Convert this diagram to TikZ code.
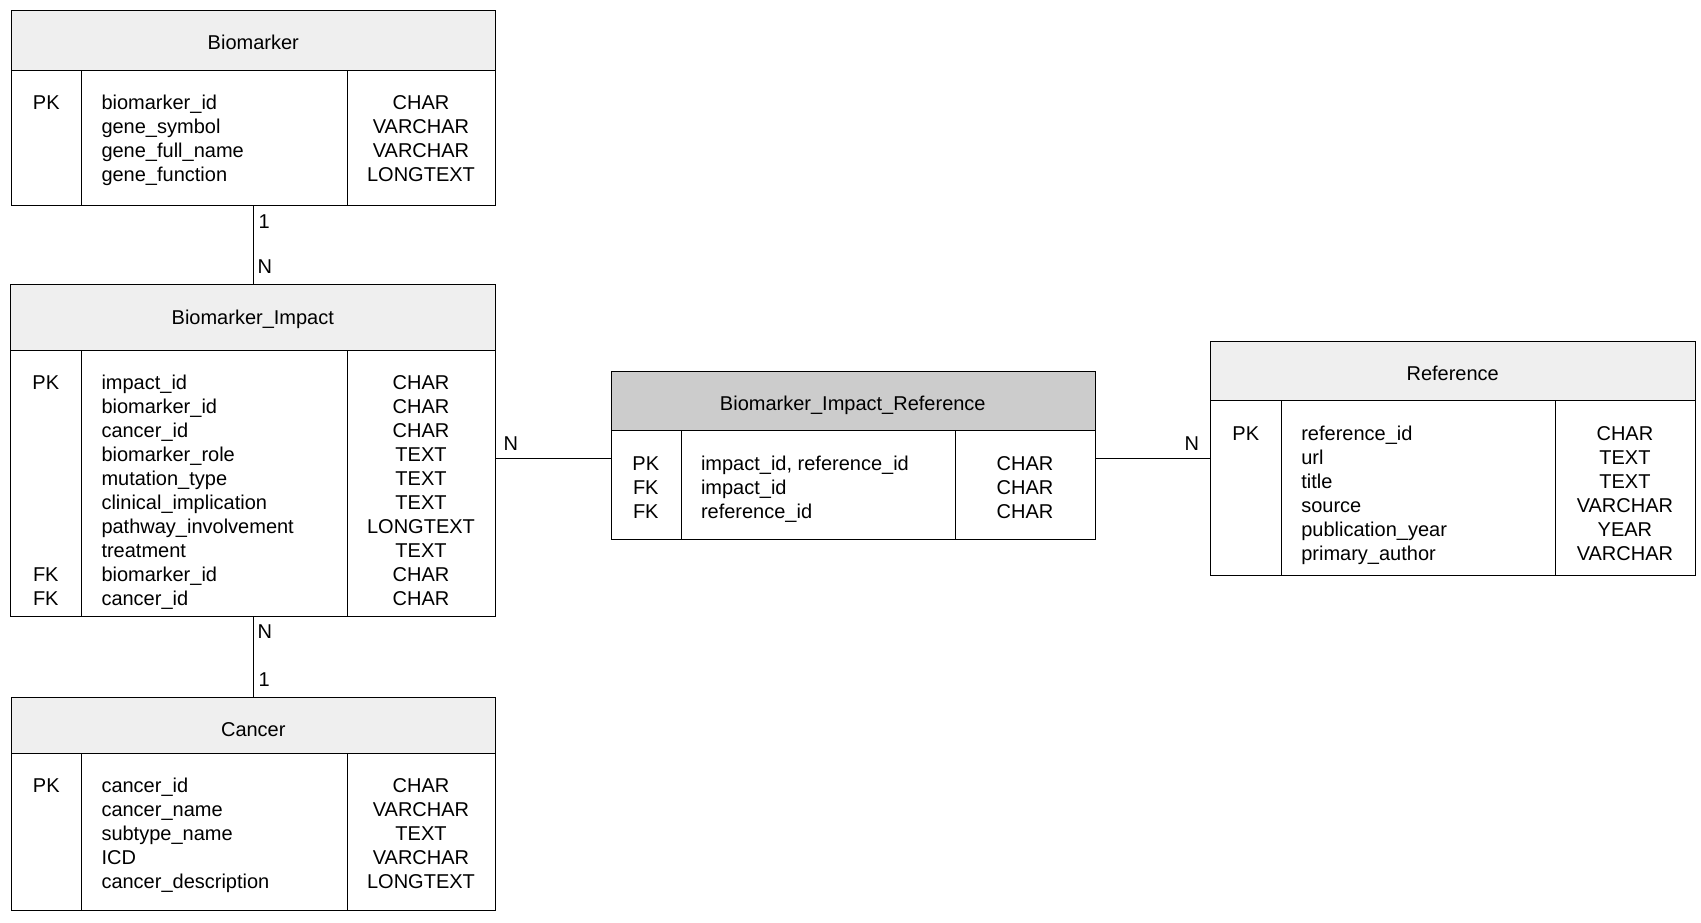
\documentclass[tikz,border=0pt]{standalone}
\usepackage{fontspec}
\setmainfont{Liberation Sans}
\usetikzlibrary{fit}

\definecolor{hdrgray}{HTML}{EFEFEF}
\definecolor{hdrdark}{HTML}{CCCCCC}

\tikzset{
  txt/.style={inner sep=0pt, outer sep=0pt, font=\fontsize{20}{24}\selectfont, text=black},
  framebox/.style={draw=black, line width=1.1pt, inner sep=0pt, anchor=north west},
  tablebox/.style={inner sep=0pt, outer sep=0pt},
  conn/.style={draw=black, line width=1.1pt},
}

% #1 name, #2 left, #3 top, #4 right, #5 header bottom, #6 bottom,
% #7 first divider, #8 second divider, #9 header fill
\newcommand\ertable[9]{%
  \node[framebox, fill=#9, minimum width={#4-#2}, minimum height={#5-#3}] (#1-head) at (#2,#3) {};
  \node[framebox, minimum width={#7-#2}, minimum height={#6-#5}] (#1-keys) at (#2,#5) {};
  \node[framebox, minimum width={#8-#7}, minimum height={#6-#5}] (#1-fields) at (#7,#5) {};
  \node[framebox, minimum width={#4-#8}, minimum height={#6-#5}] (#1-types) at (#8,#5) {};
  \node[tablebox, fit=(#1-head)(#1-keys)(#1-types)] (#1) {};
}

% #1 name, #2 key column x, #3 field text x, #4 type column x,
% #5 first baseline, #6 rows key/field/type
\newcommand\errows[6]{%
  \foreach \k/\f/\t [count=\i from 0] in {#6}{%
    \node[txt, anchor=base] (#1-k\i) at (#2,{#5+24*\i}) {\k};
    \node[txt, anchor=base west] (#1-f\i) at (#3,{#5+24*\i}) {\f};
    \node[txt, anchor=base] (#1-t\i) at (#4,{#5+24*\i}) {\t};
  }%
}

\begin{document}
\begin{tikzpicture}[x=1pt, y=-1pt]
\useasboundingbox (0,0) rectangle (1701,923);

% Biomarker
\ertable{bm}{11.3}{10.3}{495.3}{70}{205}{81.3}{346.7}{hdrgray}
\node[txt, anchor=base] (bm-title) at (253.3,50) {Biomarker};
\errows{bm}{46.3}{101.5}{421}{109.5}{%
  PK/biomarker\_id/CHAR,
  /gene\_symbol/VARCHAR,
  /gene\_full\_name/VARCHAR,
  /gene\_function/LONGTEXT}

% Biomarker_Impact
\ertable{bi}{10.3}{284.3}{495.3}{350.3}{616}{81.3}{346.7}{hdrgray}
\node[txt, anchor=base] (bi-title) at (252.8,324) {Biomarker\_Impact};
\errows{bi}{45.8}{101.5}{421}{389.5}{%
  PK/impact\_id/CHAR,
  /biomarker\_id/CHAR,
  /cancer\_id/CHAR,
  /biomarker\_role/TEXT,
  /mutation\_type/TEXT,
  /clinical\_implication/TEXT,
  /pathway\_involvement/LONGTEXT,
  /treatment/TEXT,
  FK/biomarker\_id/CHAR,
  FK/cancer\_id/CHAR}

% Cancer
\ertable{cn}{11.3}{696.7}{495.3}{753}{910}{81.3}{346.7}{hdrgray}
\node[txt, anchor=base] (cn-title) at (253.3,736) {Cancer};
\errows{cn}{46.3}{101.5}{421}{792}{%
  PK/cancer\_id/CHAR,
  /cancer\_name/VARCHAR,
  /subtype\_name/TEXT,
  /ICD/VARCHAR,
  /cancer\_description/LONGTEXT}

% Biomarker_Impact_Reference
\ertable{bir}{610.5}{371}{1095}{429.5}{539}{681}{955}{hdrdark}
\node[txt, anchor=base] (bir-title) at (852.8,410) {Biomarker\_Impact\_Reference};
\errows{bir}{645.8}{701}{1025}{470}{%
  PK/{impact\_id, reference\_id}/CHAR,
  FK/impact\_id/CHAR,
  FK/reference\_id/CHAR}

% Reference
\ertable{ref}{1210.3}{341.3}{1695}{400.3}{575}{1281.3}{1554.7}{hdrgray}
\node[txt, anchor=base] (ref-title) at (1452.7,380) {Reference};
\errows{ref}{1245.8}{1301.3}{1624.9}{440}{%
  PK/reference\_id/CHAR,
  /url/TEXT,
  /title/TEXT,
  /source/VARCHAR,
  /publication\_year/YEAR,
  /primary\_author/VARCHAR}

% relationships
\draw[conn] (bm.south) -- (bm.south |- bi.north);
\draw[conn] (bi.south) -- (bi.south |- cn.north);
\draw[conn] (bi.east |- ref.west) -- (bir.west |- ref.west);
\draw[conn] (bir.east |- ref.west) -- (ref.west);

% cardinalities
\node[txt, anchor=base west] (card-bm) at (258.5,228) {1};
\node[txt, anchor=base west] (card-bi-top) at (257.5,273) {N};
\node[txt, anchor=base west] (card-bi-bottom) at (257.5,638) {N};
\node[txt, anchor=base west] (card-cn) at (258.5,686.5) {1};
\node[txt, anchor=base west] (card-bi-right) at (503.5,450) {N};
\node[txt, anchor=base west] (card-ref) at (1184.5,450) {N};
\end{tikzpicture}
\end{document}
